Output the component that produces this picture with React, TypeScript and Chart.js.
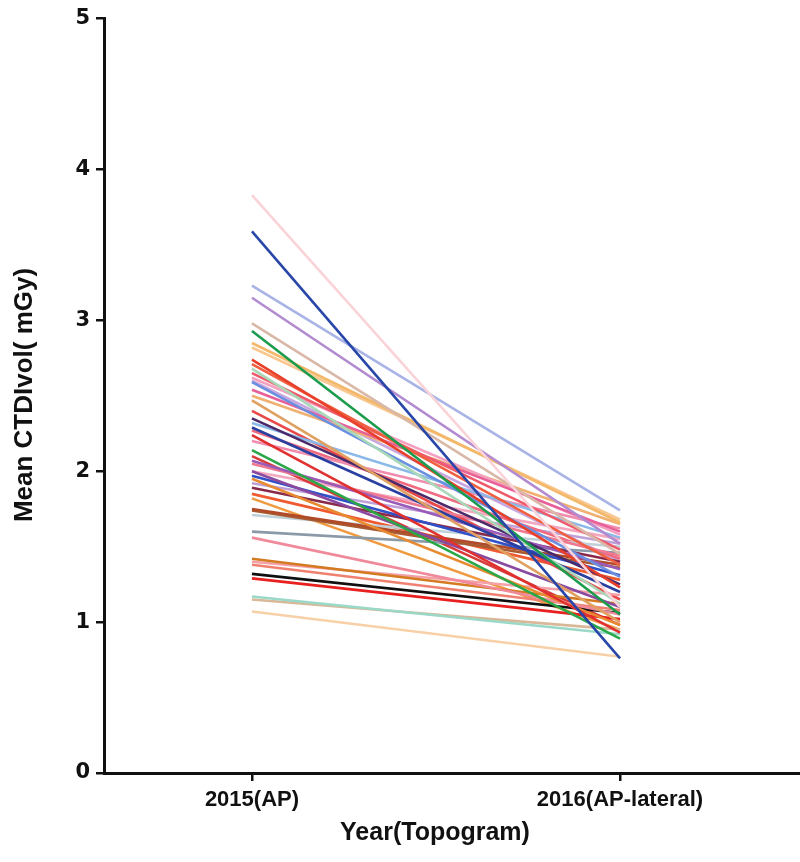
import React, { useEffect, useRef } from "react";
import { Chart, registerables } from "chart.js";

Chart.register(...registerables);

const categories = ["2015(AP)", "2016(AP-lateral)"];
const yTicks = [0, 1, 2, 3, 4, 5];
const xTitle = "Year(Topogram)";
const yTitle = "Mean CTDIvol( mGy)";

const start2015 = [
  3.83, 3.59, 3.23, 3.15, 2.98, 2.93, 2.85, 2.74, 2.71, 2.68,
  2.65, 2.59, 2.54, 2.47, 2.35, 2.32, 2.29, 2.24, 2.20, 2.14,
  2.07, 2.05, 2.00, 1.97, 1.95, 1.89, 1.75, 1.74, 1.71, 1.60,
  1.56, 1.42, 1.40, 1.38, 1.32, 1.29, 1.17, 1.15, 1.07, 2.82,
  2.62, 2.50, 2.40, 2.27, 2.10, 1.92, 1.85, 1.82, 2.60, 2.00,
];
const end2016 = [
  1.10, 0.76, 1.74, 1.52, 1.45, 1.05, 1.66, 1.23, 1.38, 1.12,
  1.48, 1.30, 1.60, 1.00, 1.25, 1.56, 1.20, 0.93, 1.62, 0.89,
  1.35, 1.44, 1.10, 1.31, 0.98, 1.40, 1.38, 1.36, 1.50, 1.46,
  1.05, 1.12, 1.18, 1.08, 1.06, 1.02, 0.92, 0.95, 0.77, 1.68,
  1.58, 1.65, 1.15, 1.42, 0.98, 1.52, 1.28, 0.95, 1.40, 1.55,
];
const lineColors = [
  "#fad3d8", "#2846a8", "#a9b4e6", "#b28bd0", "#d9b8a8", "#1c9c4c", "#f4b86a", "#e8402a", "#f06040", "#a8d8b8",
  "#ef5a6a", "#6a8ee0", "#e8609a", "#e0a060", "#4a2a6a", "#8ab8e8", "#2a40a0", "#e03030", "#f08cae", "#2aa848",
  "#9a5ab8", "#f07890", "#8a4aa0", "#3050c8", "#e88a30", "#8a2a4a", "#b04a28", "#a85a30", "#c0d0d8", "#8a9aa8",
  "#f08a9a", "#d47a20", "#f4a0a8", "#f08070", "#101010", "#e82020", "#9ad8c8", "#d8b898", "#f8d0a8", "#f8c890",
  "#f4a0c0", "#f0b070", "#e84848", "#f06a80", "#d83a3a", "#c0a0d8", "#f05a30", "#f09a40", "#c8a8e0", "#f4a8c0",
];

const FAMILY = "'Liberation Sans', Arial, sans-serif";

const titlesPlugin = {
  id: "axisTitles",
  afterDraw(chart: any) {
    const ctx = chart.ctx;
    ctx.save();
    ctx.fillStyle = "#111";
    ctx.textAlign = "center";
    ctx.textBaseline = "middle";
    ctx.font = `bold 25px ${FAMILY}`;
    ctx.fillText(xTitle, 435, 833);
    ctx.translate(25, 395);
    ctx.rotate(-Math.PI / 2);
    ctx.font = `bold 26px ${FAMILY}`;
    ctx.fillText(yTitle, 0, 0);
    ctx.restore();
  },
};

export default function App() {
  const ref = useRef<HTMLCanvasElement>(null);
  useEffect(() => {
    if (!ref.current) return;
    const datasets = start2015.map((s, i) => ({
      label: "S" + (i + 1),
      data: [
        { x: 0, y: s },
        { x: 1, y: end2016[i] },
      ],
      borderColor: lineColors[i],
      backgroundColor: lineColors[i],
      borderWidth: 2.6,
      pointRadius: 0,
      fill: false,
    }));
    const font = { family: FAMILY, weight: "bold" as const, size: 22 };
    const chart = new Chart(ref.current, {
      type: "line",
      data: { datasets },
      plugins: [titlesPlugin],
      options: {
        responsive: false,
        animation: false,
        layout: { padding: { top: 18, right: 0, left: 0, bottom: 0 } },
        plugins: { legend: { display: false }, tooltip: { enabled: false } },
        scales: {
          x: {
            type: "linear",
            min: -0.402,
            max: 1.489,
            afterBuildTicks: (scale: any) => {
              scale.ticks = [{ value: 0 }, { value: 1 }];
            },
            afterFit: (scale: any) => {
              scale.height = 89;
            },
            ticks: {
              callback: (v: any) => categories[v as number] ?? "",
              font,
              color: "#111",
              padding: 6,
              maxRotation: 0,
              autoSkip: false,
            },
            grid: { drawOnChartArea: false, tickLength: 8, color: "#111", lineWidth: 2.5 },
            border: { color: "#111", width: 3 },
          },
          y: {
            type: "linear",
            min: 0,
            max: 5,
            afterBuildTicks: (scale: any) => {
              scale.ticks = yTicks.map((v) => ({ value: v }));
            },
            afterFit: (scale: any) => {
              scale.width = 104;
            },
            ticks: { font: { family: "'DejaVu Sans', sans-serif", weight: "bold" as const, size: 21 }, color: "#111", padding: 6 },
            grid: { drawOnChartArea: false, tickLength: 8, color: "#111", lineWidth: 2.5 },
            border: { color: "#111", width: 3 },
          },
        },
      },
    });
    return () => chart.destroy();
  }, []);
  return (
    <div style={{ position: "absolute", left: 0, top: 0, width: 800, height: 862, background: "#fff" }}>
      <canvas ref={ref} width={800} height={862} style={{ width: 800, height: 862, display: "block" }} />
    </div>
  );
}
